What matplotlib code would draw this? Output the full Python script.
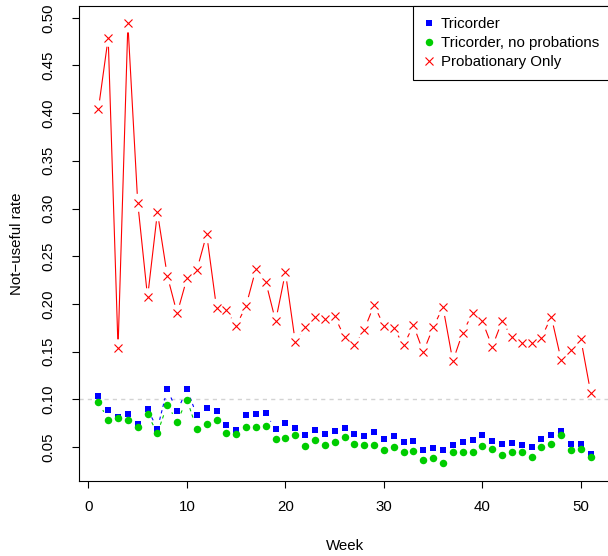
import numpy as np
import matplotlib
matplotlib.use("Agg")
import matplotlib.pyplot as plt

plt.rcParams['font.family'] = ['Liberation Sans', 'DejaVu Sans']

weeks = np.arange(1, 52)

tricorder = [0.1035, 0.0885, 0.0811, 0.0843, 0.0741, 0.0895, 0.0693, 0.1105, 0.0874, 0.1105,
             0.0832, 0.0906, 0.0874, 0.0727, 0.0675, 0.0832, 0.0843, 0.0853, 0.0686, 0.0748,
             0.0696, 0.0623, 0.0675, 0.0635, 0.0668, 0.0696, 0.0633, 0.0612, 0.0654, 0.0581,
             0.0612, 0.0549, 0.0560, 0.0465, 0.0486, 0.0465, 0.0518, 0.0549, 0.0570, 0.0626,
             0.0560, 0.0528, 0.0539, 0.0518, 0.0497, 0.0581, 0.0623, 0.0665, 0.0528, 0.0528, 0.0423]

no_probations = [0.0969, 0.0787, 0.0801, 0.0780, 0.0707, 0.0843, 0.0644, 0.0944, 0.0766, 0.0997,
                 0.0686, 0.0738, 0.0780, 0.0644, 0.0633, 0.0713, 0.0713, 0.0717, 0.0581, 0.0591,
                 0.0623, 0.0514, 0.0570, 0.0522, 0.0549, 0.0609, 0.0528, 0.0518, 0.0518, 0.0465,
                 0.0497, 0.0444, 0.0455, 0.0361, 0.0382, 0.0329, 0.0444, 0.0444, 0.0444, 0.0514,
                 0.0476, 0.0413, 0.0444, 0.0444, 0.0392, 0.0497, 0.0528, 0.0623, 0.0465, 0.0476, 0.0392]

probationary = [0.404, 0.479, 0.1535, 0.494, 0.306, 0.207, 0.296, 0.2296, 0.190, 0.227,
                0.2355, 0.273, 0.196, 0.1936, 0.177, 0.198, 0.2366, 0.2233, 0.182, 0.233,
                0.160, 0.176, 0.1866, 0.184, 0.187, 0.165, 0.1566, 0.173, 0.1988, 0.177,
                0.175, 0.1566, 0.1776, 0.1496, 0.1755, 0.1967, 0.140, 0.170, 0.190, 0.1818,
                0.155, 0.182, 0.165, 0.159, 0.1593, 0.1646, 0.1866, 0.1412, 0.152, 0.163, 0.107]

labels = ["Tricorder", "Tricorder, no probations", "Probationary Only"]
colors = ["#0000FF", "#00CD00", "#FF0000"]
ref_line = 0.10
xticks = [0, 10, 20, 30, 40, 50]
yticks = [0.05, 0.10, 0.15, 0.20, 0.25, 0.30, 0.35, 0.40, 0.45, 0.50]

W, H = 608, 556
fig = plt.figure(figsize=(W / 100, H / 100), dpi=100)
ax = fig.add_axes([78.65 / W, (H - 480.9) / H, (610.4 - 78.65) / W, 475.0 / H])

allv = np.concatenate([tricorder, no_probations, probationary])
lo, hi = allv.min(), allv.max()
r = hi - lo
ax.set_xlim(weeks.min() - 0.04 * (weeks.max() - weeks.min()),
            weeks.max() + 0.04 * (weeks.max() - weeks.min()))
ax.set_ylim(lo - 0.04 * r, hi + 0.04 * r)

ax.axhline(ref_line, color="#D3D3D3", lw=1.0, dashes=(3, 3), zorder=1)

GAP = 9.0  # px gap around points (R type="b")


def gapped_line(x, y, color, ls):
    pts = ax.transData.transform(np.column_stack([x, y]))
    inv = ax.transData.inverted()
    for p0, p1 in zip(pts[:-1], pts[1:]):
        d = np.hypot(*(p1 - p0))
        if d > 2 * GAP:
            u = (p1 - p0) / d
            a = inv.transform(p0 + GAP * u)
            b = inv.transform(p1 - GAP * u)
            ax.plot([a[0], b[0]], [a[1], b[1]], color=color, lw=0.8,
                    linestyle=ls, zorder=2, solid_capstyle='butt', dash_capstyle='butt')


gapped_line(weeks, tricorder, colors[0], (0, (3, 3)))
gapped_line(weeks, no_probations, colors[1], (0, (3, 3)))
gapped_line(weeks, probationary, colors[2], '-')

h1, = ax.plot(weeks, tricorder, linestyle='none', marker='s', ms=5.0, color=colors[0],
              markeredgewidth=0, label=labels[0], zorder=3)
h2, = ax.plot(weeks, no_probations, linestyle='none', marker='o', ms=5.4, color=colors[1],
              markeredgewidth=0, label=labels[1], zorder=4)
h3, = ax.plot(weeks, probationary, linestyle='none', marker='x', ms=5.6, color=colors[2],
              markeredgewidth=0.8, label=labels[2], zorder=5)

ax.set_xticks(xticks)
ax.set_xticklabels([str(t) for t in xticks])
ax.set_yticks(yticks)
ax.set_yticklabels([f"{t:.2f}" for t in yticks], rotation=90, va='center')
ax.tick_params(axis='both', direction='out', length=5, width=0.8, labelsize=10.8, color='black')
ax.tick_params(axis='x', pad=9)
ax.tick_params(axis='y', pad=12)

for s in ax.spines.values():
    s.set_linewidth(0.8)
    s.set_color('black')

ax.set_xlabel("Week", fontsize=10.8, labelpad=18)
ax.set_ylabel("Not\u2212useful rate", fontsize=10.8, labelpad=12)

leg = ax.legend(handles=[h1, h2, h3], loc='upper right', bbox_to_anchor=(1, 1),
                borderaxespad=0, fancybox=False, framealpha=1, edgecolor='black',
                fontsize=10.8, handlelength=0.6, handletextpad=0.5, borderpad=0.75,
                labelspacing=0.32)
leg.get_frame().set_linewidth(0.8)

fig.savefig("out.png", dpi=100)
